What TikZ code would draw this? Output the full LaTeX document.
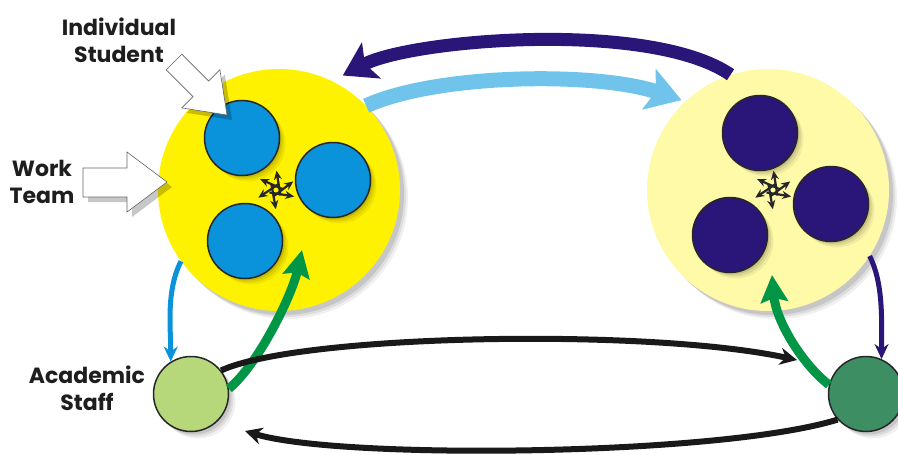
\documentclass[tikz,border=0pt]{standalone}
\usepackage{fontspec}
\setmainfont{Poppins}
\usetikzlibrary{arrows.meta,shadows,calc}
\definecolor{bigyellow}{RGB}{255,242,0}
\definecolor{paleyellow}{RGB}{255,250,168}
\definecolor{studblue}{RGB}{10,146,218}
\definecolor{navy}{RGB}{42,22,120}
\definecolor{skyblue}{RGB}{112,196,236}
\definecolor{arrgreen}{RGB}{0,150,70}
\definecolor{staffgreen}{RGB}{182,216,122}
\definecolor{darkgreen}{RGB}{62,142,100}
\definecolor{txt}{RGB}{30,30,30}
\tikzset{
  softshadow/.style={
    preaction={fill=black, opacity=0.06, transform canvas={shift={(#1+2pt,-#1-2pt)}}},
    preaction={fill=black, opacity=0.08, transform canvas={shift={(#1,-#1)}}},
    preaction={fill=black, opacity=0.10, transform canvas={shift={(#1-2pt,-#1+2pt)}}}},
  bigcircle/.style={circle, minimum size=242pt, inner sep=0pt, softshadow=6pt},
  member/.style={circle, draw=black!85, line width=1.5pt, minimum size=75pt, inner sep=0pt,
    softshadow=4pt},
  staffnode/.style={circle, draw=black!85, line width=1.5pt, minimum size=75pt, inner sep=0pt,
    softshadow=5pt},
  label/.style={font=\fontsize{22}{27}\selectfont\bfseries, text=txt, align=center, inner sep=0pt},
  blockarrow/.style={fill=white, draw=black!60, line width=0.6pt, line join=miter},
  blockshadow/.style={fill=black, opacity=0.22},
  starrow/.style={line width=2.2pt, black!85, -{Stealth[length=9pt,width=8pt]}},
}
\begin{document}
\begin{tikzpicture}[x=1pt,y=-1pt]
\useasboundingbox (0,0) rectangle (898,455);

% big circles
\node[bigcircle, fill=bigyellow] (L) at (279,190) {};
\node[bigcircle, fill=paleyellow] (R) at (768,190) {};

% members of work team (left)
\node[member, fill=studblue] (b1) at (242,138) {};
\node[member, fill=studblue] (b2) at (333,180) {};
\node[member, fill=studblue] (b3) at (245,241) {};

% members (right)
\node[member, fill=navy] (n1) at (760,133) {};
\node[member, fill=navy] (n2) at (831,204) {};
\node[member, fill=navy] (n3) at (730,235) {};

% staff
\node[staffnode, fill=staffgreen] (A) at (191,394) {};
\node[staffnode, fill=darkgreen] (D) at (866,394) {};

% star arrows
\coordinate (sL) at (276,190);
\coordinate (sR) at (773,190);
\foreach \c in {sL,sR}{
  \foreach \a in {-99,-37,9,80,146,204}{
    \draw[starrow] ($(\c)+(\a+150:7)$) -- ++(\a:25);
  }
}

% top arrows
\draw[navy, line width=13pt, -{Stealth[length=32pt,width=40pt,inset=7pt]}, shorten >=12pt]
  (R.108) .. controls +(-80,-55) and +(80,-42) .. (L.64);
\draw[skyblue, line width=15pt, -{Stealth[length=34pt,width=42pt,inset=7pt]}, shorten >=4pt]
  (L.44) .. controls +(70,-32) and +(-90,-30) .. (R.133);

% left side arrows
\draw[studblue, line width=5pt, -{Stealth[length=15pt,width=14pt]}]
  (L.216) .. controls +(-15,30) and +(0,-35) .. (A.122);
\coordinate (gL) at (302,250);
\draw[arrgreen, line width=9pt, -{Stealth[length=27pt,width=27pt,inset=4pt]}]
  (A.8) .. controls +(30,-25) and +(-10,45) .. (gL);

% right side arrows
\draw[navy, line width=5pt, -{Stealth[length=15pt,width=14pt]}]
  (R.327) .. controls +(14,28) and +(0,-38) .. (D.66);
\coordinate (gR) at (772,275);
\draw[arrgreen, line width=9pt, -{Stealth[length=27pt,width=27pt,inset=4pt]}]
  (D.166) .. controls +(-28,-22) and +(4,45) .. (gR);

% black arrows
\coordinate (tR) at (797,360);
\draw[black!90, line width=6pt, -{Stealth[length=17pt,width=17pt]}]
  (A.38) .. controls (300,334) and (650,328) .. (tR);
\coordinate (tL) at (245,431);
\draw[black!90, line width=6pt, -{Stealth[length=17pt,width=17pt]}]
  (D.222) .. controls (720,456) and (340,460) .. (tL);

% block arrow: Work Team
\fill[blockshadow] (88,173) -- (132,173) -- (132,157) -- (172,187) -- (132,217) -- (132,202) -- (88,202) -- cycle;
\draw[blockarrow] (83,168) -- (127,168) -- (127,152) -- (167,182) -- (127,212) -- (127,197) -- (83,197) -- cycle;
% block arrow: Individual Student
\fill[blockshadow] (186.8,59.2) -- (213.6,86) -- (224.9,74.7) -- (232,120) -- (186.7,112.9) -- (198,101.6) -- (171.2,74.8) -- cycle;
\draw[blockarrow] (181.8,54.2) -- (208.6,81) -- (219.9,69.7) -- (227,115) -- (181.7,107.9) -- (193,96.6) -- (166.2,69.8) -- cycle;

% labels
\node[label] (tIS) at (119,40) {Individual\\Student};
\node[label] (tWT) at (42,182) {Work\\Team};
\node[label] (tAS) at (87,388) {Academic\\Staff};
\end{tikzpicture}
\end{document}
